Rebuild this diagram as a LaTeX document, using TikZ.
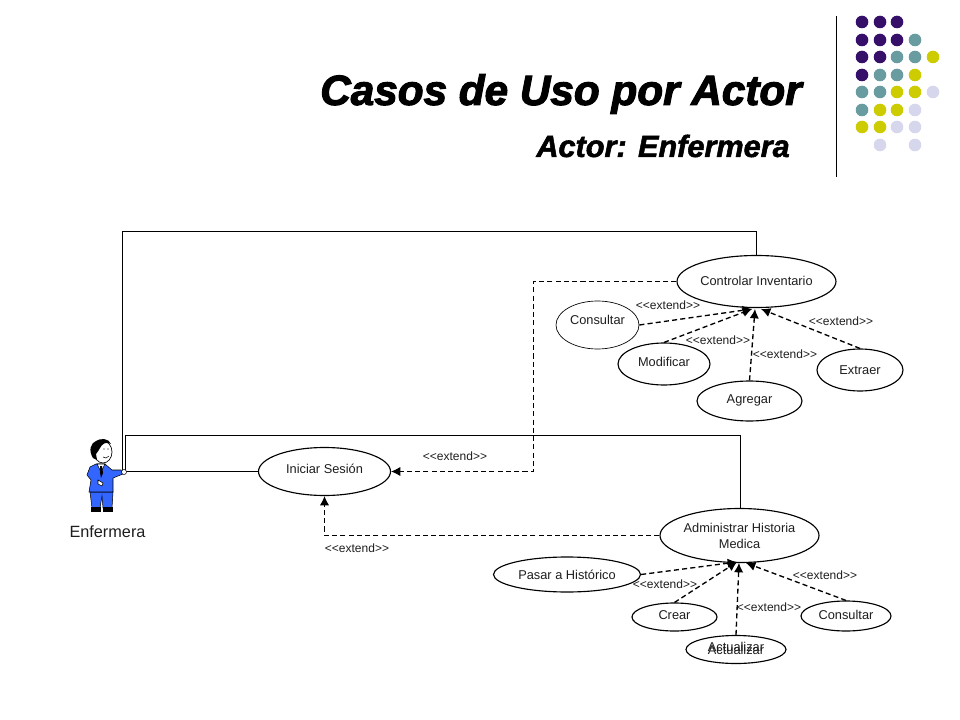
\documentclass[tikz,border=0pt]{standalone}
\usepackage{fontspec}
\setmainfont{Liberation Sans}
\newfontfamily\titlefont[FakeBold=2.6]{Liberation Sans}
\newfontfamily\subtitlefont[FakeBold=1.8]{Liberation Sans}
\usetikzlibrary{shapes.geometric}
\usetikzlibrary{arrows.meta}
\usetikzlibrary{calc}

\definecolor{dotpurple}{RGB}{54,15,105}
\definecolor{dotteal}{RGB}{104,156,160}
\definecolor{dotyellow}{RGB}{204,204,0}
\definecolor{dotlilac}{RGB}{214,214,236}
\definecolor{actorblue}{RGB}{51,102,255}
\definecolor{inktext}{RGB}{30,30,30}

\tikzset{
  usecase/.style n args={2}{ellipse, draw=black, fill=white, line width=0.85pt, inner sep=0pt, align=center,
    text=inktext, font=\fontsize{9.6}{12}\selectfont, minimum width=#1*0.75pt, minimum height=#2*0.75pt},
  extendtag/.style={inner sep=0pt, text=inktext, font=\fontsize{9}{10}\selectfont},
  assoc/.style={line width=0.8pt},
  extendline/.style={line width=0.8pt, dash pattern=on 3.8pt off 2.4pt, -{Latex[length=7pt,width=7pt]}},
  extendslant/.style={extendline, line width=1pt}
}

\begin{document}
\begin{tikzpicture}[x=0.75pt, y=-0.75pt]
\useasboundingbox (0,0) rectangle (960,720);

% First, the title and the dots in the corner
\node[anchor=east, inner sep=0pt, font=\fontsize{31.7}{34}\selectfont\titlefont\bfseries\itshape] (title) at (802,94) {Casos de Uso por Actor};
\node[anchor=east, inner sep=0pt, font=\fontsize{23}{26}\selectfont\subtitlefont\bfseries\itshape] (subtitle) at (790,146) {Actor: Enfermera};
\draw[line width=0.8pt] (836.5,16) -- (836.5,177);

\foreach \x/\y/\c in {862/22/dotpurple,880/22/dotpurple,897/22/dotpurple,
  862/40/dotpurple,880/40/dotpurple,897/40/dotpurple,915/40/dotteal,
  862/57/dotpurple,880/57/dotpurple,897/57/dotteal,915/57/dotteal,933/57/dotyellow,
  862/75/dotpurple,880/75/dotteal,897/75/dotteal,915/75/dotyellow,
  862/92/dotteal,880/92/dotteal,897/92/dotyellow,915/92/dotyellow,933/92/dotlilac,
  862/110/dotteal,880/110/dotyellow,897/110/dotyellow,915/110/dotlilac,
  862/127/dotyellow,880/127/dotyellow,897/127/dotlilac,915/127/dotlilac,
  880/145/dotlilac,915/145/dotlilac}
  {\fill[\c] (\x,\y) circle[radius=6.3];}

% Now the use cases (text depth lifts a text above the middle of its ellipse)
\node[usecase={132}{48}, text depth=4.5pt] (iniciar) at (324.5,471.5) {Iniciar Sesión};
\node[usecase={158}{52}, text depth=1.5pt] (controlar) at (756.5,281.5) {Controlar Inventario};
\node[usecase={83}{48}, line width=0.5pt, text depth=7.5pt] (consultarA) at (597.5,325) {Consultar};
\node[usecase={92}{42}, text depth=3pt] (modificar) at (664,364) {Modificar};
\node[usecase={105}{40}, text depth=3.5pt] (agregar) at (749.5,401) {Agregar};
\node[usecase={86}{42}] (extraer) at (860,370) {Extraer};
\node[usecase={159}{54}] (administrar) at (739.5,535.5) {Administrar Historia\\Medica};
\node[usecase={147}{35}] (pasar) at (567,574.5) {Pasar a Histórico};
\node[usecase={85}{28}, text depth=3pt] (crear) at (674.5,617) {Crear};
\node[usecase={90}{30}, text depth=1.5pt] (consultarB) at (846,616) {Consultar};
\node[usecase={100}{28}] (actualizar) at (736,649.5) {Actualizar};
% the second text sits just above the first one
\node[inner sep=0pt, text=inktext, font=\fontsize{9.6}{12}\selectfont] (actualizarB) at (736,647) {Actualizar};

% Free ends of the lines: the actor's hand and the points where arrows meet
\coordinate (handA) at (122.5,471.5);
\coordinate (handB) at (125.5,471.5);
\coordinate (topA) at (752,309);
\coordinate (topB) at (755,309);
\coordinate (topC) at (761,309);
\coordinate (topD) at (737,562);
\coordinate (topE) at (739,563);
\coordinate (topF) at (746,563);

% Lines from the actor
\draw[assoc] (handA) -- (iniciar.west);
\draw[assoc] (handA) -- (122.5,231.5) -- (756.5,231.5) -- (controlar.north);
\draw[assoc] (handB) -- (125.5,435.5) -- (740.5,435.5) -- (740.5,508);

% The two long dashed lines
\draw[extendline] (controlar.west) -- (533.5,281.5) -- (533.5,471.5) -- (iniciar.east);
\draw[extendline] (administrar.west) -- (324.5,535.5) -- (iniciar.south);

% Dashed lines up to each parent case
\draw[extendslant] (consultarA.east) -- (topA);
\draw[extendslant] (modificar.north) -- (topA);
\draw[extendslant] (agregar.north) -- (topB);
\draw[extendslant] (extraer.north) -- (topC);
\draw[extendslant] (pasar.east) -- (topD);
\draw[extendslant] (crear.north) -- (topD);
\draw[extendslant] (actualizar.north) -- (topE);
\draw[extendslant] (consultarB.north) -- (topF);

% Labels
\foreach \x/\y/\n in {668/305/a,718/340/b,841/321/c,785/354/d,455/456/e,357/548/f,665/584/g,769/607/h,825/575/i}
  {\node[extendtag] (tag\n) at (\x,\y) {<{}<extend>{}>};}

% The actor, made of plain shapes
\fill[actorblue, draw=black, line width=0.4pt] (90,492) -- (113,492) -- (112,508) -- (103,508) -- (102,496) -- (100,508) -- (92,508) -- cycle;
\fill[black] (91,507) rectangle (101,512);
\fill[black] (103,507) rectangle (113,512);
\fill[actorblue, draw=black, line width=0.4pt] (96,464) -- (105,464) -- (112,470) -- (121,470) -- (123,474) -- (113,478) -- (113,492) -- (89,492) -- (91,480) -- (87,475) -- (90,467) -- cycle;
\fill[white, draw=black, line width=0.4pt] (97,464) -- (105,464) -- (101,472) -- cycle;
\fill[black] (100,466) -- (102,466) -- (103,473) -- (101,478) -- (100,473) -- cycle;
\fill[white, draw=black, line width=0.4pt] (98,480) -- (103,483) -- (102,486) -- (98,484) -- cycle;
\fill[white, draw=black, line width=0.4pt] (124,472) circle[radius=2.5];
\fill[white, draw=black, line width=0.5pt] (103,452) ellipse[x radius=9, y radius=11];
\fill[black] (93,458) .. controls (88,450) and (91,443) .. (96,441) .. controls (100,438) and (109,438) .. (111,444) .. controls (106,441) and (102,444) .. (100,448) .. controls (98,450) and (98,453) .. (96,454) -- (97,460) -- cycle;
\fill[black] (104,449) circle[radius=0.7];
\fill[black] (108,449) circle[radius=0.7];
\draw[line width=0.4pt] (103,457) .. controls (105,459) and (107,458) .. (109,456);

\node[inner sep=0pt, text=inktext, font=\fontsize{12.2}{14}\selectfont] (enfermera) at (107.5,532) {Enfermera};

\end{tikzpicture}
\end{document}
